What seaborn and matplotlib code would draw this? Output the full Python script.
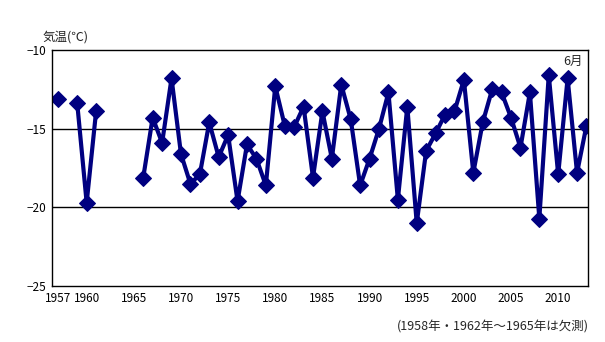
import numpy as np
import pandas as pd
import matplotlib
matplotlib.use("Agg")
import matplotlib.pyplot as plt
import seaborn as sns

sns.set_theme(style="white")
plt.rcParams['font.family'] = ['Noto Sans CJK JP', 'DejaVu Sans']

years = list(range(1957, 2014))
temps = [
    -13.1, np.nan, -13.4, -19.7, -13.9,            # 1957-1961
    np.nan, np.nan, np.nan, np.nan,                  # 1962-1965
    -18.1, -14.3, -15.9, -11.8, -16.6,               # 1966-1970
    -18.5, -17.9, -14.6, -16.8, -15.4,               # 1971-1975
    -19.6, -16.0, -16.9, -18.6, -12.3,               # 1976-1980
    -14.8, -14.9, -13.6, -18.1, -13.9,               # 1981-1985
    -16.9, -12.2, -14.4, -18.6, -16.9,               # 1986-1990
    -15.0, -12.7, -19.5, -13.6, -21.0,               # 1991-1995
    -16.4, -15.3, -14.1, -13.9, -11.9,               # 1996-2000
    -17.8, -14.6, -12.5, -12.7, -14.3,               # 2001-2005
    -16.2, -12.7, -20.7, -11.6, -17.9,               # 2006-2010
    -11.8, -17.8, -14.8,                             # 2011-2013
]
xticks = [1957, 1960, 1965, 1970, 1975, 1980, 1985, 1990, 1995, 2000, 2005, 2010]
yticks = [-25, -20, -15, -10]

df = pd.DataFrame({"year": years, "temp": temps})
# split into contiguous runs so that gaps (missing years) are not bridged
df["seg"] = df["temp"].isna().cumsum()
df = df.dropna()

fig = plt.figure(figsize=(6.05, 3.42), dpi=100)
ax = fig.add_axes([0.0865, 0.163, 0.886, 0.691])

sns.lineplot(data=df, x="year", y="temp", units="seg", estimator=None, ax=ax,
             color="#000080", linewidth=3, marker="D", markersize=8,
             markeredgecolor="#000080", markerfacecolor="#000080")

ax.set_xlim(1956.36, 2013.2)
ax.set_ylim(-25, -10)
ax.set_xticks(xticks)
ax.set_xticklabels([str(t) for t in xticks])
ax.set_yticks(yticks)
ax.tick_params(axis="both", length=0, labelsize=8.5, colors="black", pad=4)
for y in [-15, -20]:
    ax.axhline(y, color="black", linewidth=1, zorder=0)
for s in ax.spines.values():
    s.set_color("black")
    s.set_linewidth(1)
ax.set_xlabel("")
ax.set_ylabel("")

fig.text(0.071, 0.892, "気温(℃)", fontsize=9, ha="left", va="center")
ax.text(0.99, 0.953, "6月", transform=ax.transAxes, fontsize=9,
        ha="right", va="center")
fig.text(0.973, 0.045, "(1958年・1962年～1965年は欠測)", fontsize=9,
         ha="right", va="center")

fig.savefig("out.png", dpi=100)
